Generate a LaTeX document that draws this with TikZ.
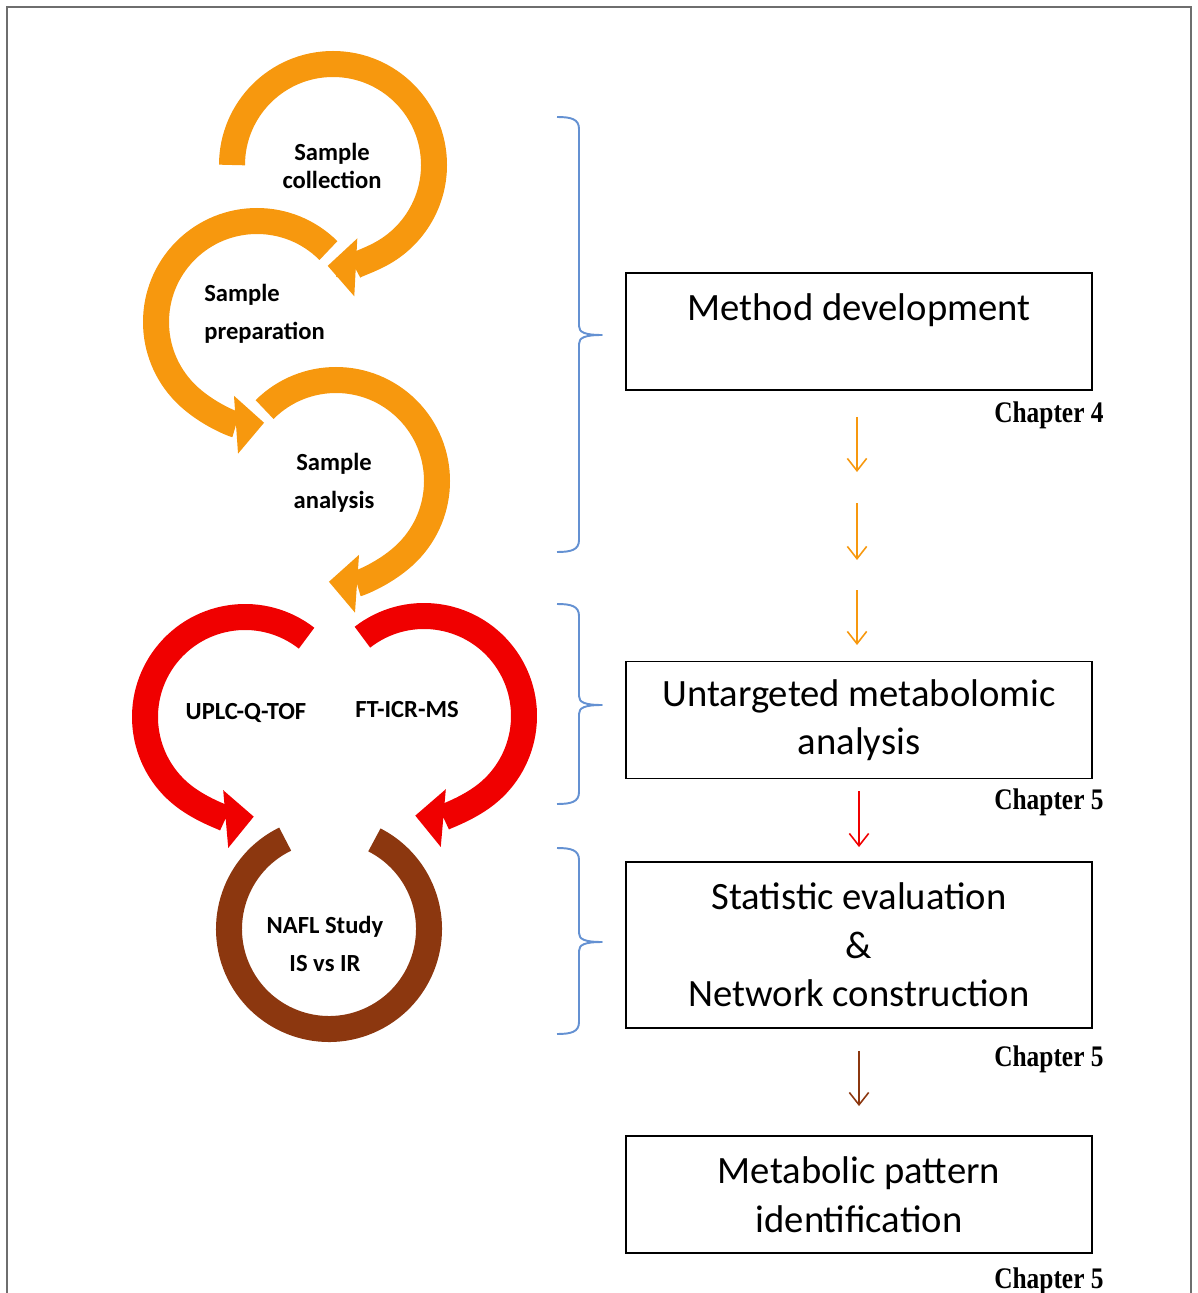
\documentclass[tikz,border=0pt]{standalone}
\usepackage{fontspec}
\setmainfont{Carlito}
\newfontfamily\chapfont[FakeStretch=0.85]{Liberation Serif}
\usetikzlibrary{arrows.meta}

\definecolor{sampleorange}{RGB}{247,152,14}
\definecolor{msred}{RGB}{240,0,0}
\definecolor{studybrown}{RGB}{140,55,15}
\definecolor{braceblue}{RGB}{100,145,210}
\definecolor{framegray}{RGB}{110,110,110}

% right curly brace: x, top, middle, bottom
\newcommand\chapbrace[4]{%
  \draw[bluebrace] (#1-22,-#2) .. controls (#1-8,-#2) and (#1,-#2-2) .. (#1,-#2-12)
    -- (#1,-#3+9) .. controls (#1,-#3+3) and (#1+5,-#3) .. (#1+23,-#3)
    .. controls (#1+5,-#3) and (#1,-#3-3) .. (#1,-#3-9)
    -- (#1,-#4+12) .. controls (#1,-#4+2) and (#1-8,-#4) .. (#1-22,-#4);}

\begin{document}
\begin{tikzpicture}[x=0.02cm, y=0.02cm,
  band/.style={line width=0.52cm},
  bandarrow/.style={band, -{Triangle[length=16pt,width=33pt,line width=0pt]}},
  lab/.style={font=\bfseries\fontsize{14}{21.5}\selectfont, align=center, inner sep=0pt},
  box/.style={draw, line width=1.1pt, minimum width=9.32cm, minimum height=2.34cm,
    align=center, inner sep=0pt, font=\fontsize{22}{27.6}\selectfont},
  chap/.style={font=\chapfont\bfseries\fontsize{17}{20}\selectfont, anchor=base east, inner sep=0pt},
  flow/.style={line width=0.9pt, -{Straight Barb[length=7pt,width=11pt]}},
  bluebrace/.style={braceblue, line width=1.1pt, line join=round}
]
\useasboundingbox (0,0) rectangle (1197,-1293);
\draw[framegray, line width=1.2pt] (7,-1293) -- (7,-7) -- (1191,-7) -- (1191,-1293);

% centres of the circular arrows
\coordinate (c1) at (333,-165);
\coordinate (c2) at (257,-322);
\coordinate (c3) at (336,-481);
\coordinate (c4) at (245,-717);
\coordinate (c5) at (424,-716);
\coordinate (c6) at (329,-929);

\draw[bandarrow, sampleorange] ([shift={(180:101)}]c1) arc[start angle=180, end angle=-93, radius=101];
\draw[bandarrow, sampleorange] ([shift={(45:101)}]c2) arc[start angle=45, end angle=274, radius=101];
\draw[bandarrow, sampleorange] ([shift={(135:101)}]c3) arc[start angle=135, end angle=-94, radius=101];
\draw[bandarrow, msred] ([shift={(52:100)}]c4) arc[start angle=52, end angle=275, radius=100];
\draw[bandarrow, msred] ([shift={(128:100)}]c5) arc[start angle=128, end angle=-95, radius=100];
\draw[band, studybrown] ([shift={(116:100)}]c6) arc[start angle=116, end angle=423, radius=100];

\node[lab, font=\bfseries\fontsize{14}{16}\selectfont] (collect) at (332,-166) {Sample\\collection};
\node[lab, align=left, anchor=west] (prep) at (204,-314) {Sample\\preparation};
\node[lab] (analysis) at (334,-483) {Sample\\analysis};
\node[lab] (uplc) at (246,-713) {UPLC-Q-TOF};
\node[lab] (fticr) at (407,-710) {FT-ICR-MS};
\node[lab] (nafl) at (325,-944) {NAFL Study\\IS vs IR};

% boxes
\node[box] (method) at (859,-331.5) {Method development\\~};
\node[box] (untarg) at (859,-720) {Untargeted metabolomic\\analysis};
\node[box, minimum height=3.32cm] (stat) at (859,-945) {Statistic evaluation\\\&\\Network construction};
\node[box] (pattern) at (859,-1194.5) {Metabolic pattern\\identification};

\node[chap] (ch4) at ([xshift=0.22cm,yshift=-0.64cm]method.south east) {Chapter 4};
\node[chap] (ch5a) at ([xshift=0.22cm,yshift=-0.6cm]untarg.south east) {Chapter 5};
\node[chap] (ch5b) at ([xshift=0.22cm,yshift=-0.76cm]stat.south east) {Chapter 5};
\node[chap] (ch5c) at ([xshift=0.22cm,yshift=-0.7cm]pattern.south east) {Chapter 5};

% arrows between the boxes
\foreach \ya/\yb [count=\i] in {417/472,503/560,590/645} {
  \coordinate (oa\i) at (857,-\ya);
  \coordinate (ob\i) at (857,-\yb);
  \draw[flow, sampleorange] (oa\i) -- (ob\i);
}
\draw[flow, msred] ([yshift=-0.24cm]untarg.south) -- ([yshift=0.28cm]stat.north);
\draw[flow, studybrown] ([yshift=-0.44cm]stat.south) -- ([yshift=0.58cm]pattern.north);

% braces
\chapbrace{579}{117}{335}{552}
\chapbrace{579}{604}{705}{804}
\chapbrace{579}{848}{942}{1034}
\end{tikzpicture}
\end{document}
